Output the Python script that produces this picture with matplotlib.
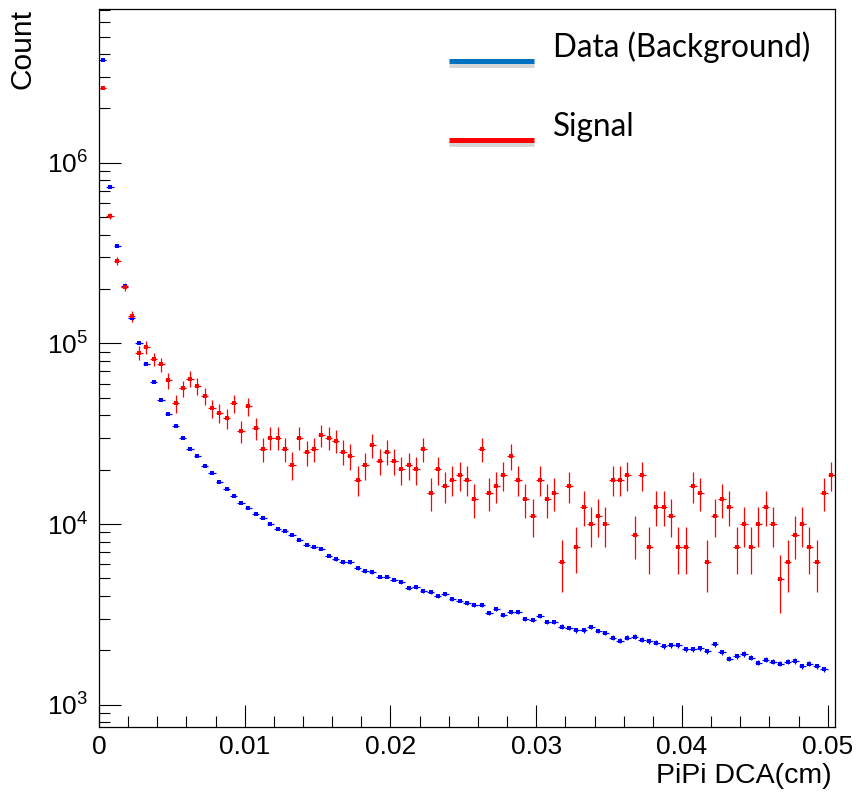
import numpy as np
import matplotlib
matplotlib.use("Agg")
import matplotlib.pyplot as plt
from matplotlib.lines import Line2D
from matplotlib.ticker import LogLocator, NullFormatter, MultipleLocator

# histogram: 101 bins of 0.0005 cm from 0 to 0.0505
bin_width = 0.0005
n_bins = 101

# Data (Background), counts per bin (last bin empty)
background = [
    3.73e6, 7.31e5, 3.46e5, 2.08e5, 1.39e5, 1.00e5, 7.66e4, 6.09e4, 4.88e4, 4.07e4,
    3.48e4, 3.01e4, 2.61e4, 2.38e4, 2.11e4, 1.91e4, 1.71e4, 1.57e4, 1.43e4, 1.31e4,
    1.22e4, 1.14e4, 1.08e4, 1.00e4, 9.40e3, 9.19e3, 8.67e3, 8.17e3, 7.66e3, 7.47e3,
    7.28e3, 6.69e3, 6.39e3, 6.15e3, 6.15e3, 5.71e3, 5.50e3, 5.43e3, 5.12e3, 5.12e3,
    4.92e3, 4.76e3, 4.41e3, 4.47e3, 4.26e3, 4.21e3, 4.00e3, 4.11e3, 3.85e3, 3.77e3,
    3.67e3, 3.58e3, 3.55e3, 3.22e3, 3.39e3, 3.14e3, 3.27e3, 3.27e3, 2.98e3, 2.95e3,
    3.10e3, 2.88e3, 2.86e3, 2.71e3, 2.65e3, 2.58e3, 2.58e3, 2.69e3, 2.56e3, 2.50e3,
    2.35e3, 2.26e3, 2.35e3, 2.38e3, 2.29e3, 2.24e3, 2.21e3, 2.11e3, 2.13e3, 2.13e3,
    2.03e3, 2.03e3, 2.06e3, 1.98e3, 2.16e3, 1.95e3, 1.80e3, 1.86e3, 1.91e3, 1.82e3,
    1.71e3, 1.78e3, 1.73e3, 1.69e3, 1.73e3, 1.75e3, 1.63e3, 1.69e3, 1.63e3, 1.57e3,
]

# Signal (scaled MC), counts per bin
signal = [
    2.59e6, 5.07e5, 2.86e5, 2.06e5, 1.41e5, 8.88e4, 9.55e4, 8.17e4, 7.66e4, 6.25e4,
    4.66e4, 5.64e4, 6.38e4, 5.81e4, 5.13e4, 4.37e4, 4.12e4, 3.87e4, 4.66e4, 3.27e4,
    4.49e4, 3.39e4, 2.61e4, 3.01e4, 3.01e4, 2.61e4, 2.13e4, 3.01e4, 2.50e4, 2.61e4,
    3.11e4, 3.01e4, 2.89e4, 2.51e4, 2.38e4, 1.76e4, 2.12e4, 2.74e4, 2.24e4, 2.51e4,
    2.24e4, 2.01e4, 2.12e4, 2.01e4, 2.61e4, 1.49e4, 2.01e4, 1.63e4, 1.76e4, 1.87e4,
    1.76e4, 1.38e4, 2.61e4, 1.49e4, 1.63e4, 1.87e4, 2.38e4, 1.76e4, 1.38e4, 1.11e4,
    1.76e4, 1.38e4, 1.49e4, 6.19e3, 1.63e4, 7.50e3, 1.25e4, 1.00e4, 1.11e4, 1.00e4,
    1.76e4, 1.76e4, 1.87e4, 8.74e3, 1.87e4, 7.47e3, 1.25e4, 1.25e4, 1.11e4, 7.47e3,
    7.47e3, 1.63e4, 1.49e4, 6.19e3, 1.11e4, 1.38e4, 1.25e4, 7.47e3, 1.00e4, 7.47e3,
    1.00e4, 1.25e4, 1.00e4, 4.99e3, 6.19e3, 8.74e3, 1.00e4, 7.47e3, 6.19e3, 1.49e4,
    1.87e4,
]

# weights (sumw2 errors of weighted histograms)
bkg_weight = 2.0
sig_weight = 625.0

legend_labels = ["Data (Background)", "Signal"]

plt.rcParams['font.family'] = ['Liberation Sans', 'DejaVu Sans']
plt.rcParams['mathtext.fontset'] = 'custom'
plt.rcParams['mathtext.rm'] = 'Liberation Sans'
plt.rcParams['mathtext.default'] = 'regular'

centers = (np.arange(n_bins) + 0.5) * bin_width
bkg = np.array(background)
sig = np.array(signal)

fig = plt.figure(figsize=(8.58, 7.93), dpi=100)
ax = fig.add_axes([99 / 858, 1 - 727 / 793, 736 / 858, 718 / 793])

ax.errorbar(centers[:len(bkg)], bkg, xerr=bin_width / 2, yerr=np.sqrt(bkg_weight * bkg),
            fmt='s', ms=3, color='blue', mew=0, elinewidth=0.9, capsize=0)
ax.errorbar(centers[:len(sig)], sig, xerr=bin_width / 2, yerr=np.sqrt(sig_weight * sig),
            fmt='s', ms=3, color='red', mew=0, elinewidth=0.9, capsize=0)

ax.set_yscale('log')
ax.set_xlim(0, n_bins * bin_width)
ax.set_ylim(753, 7.1e6)

ax.xaxis.set_major_locator(MultipleLocator(0.01))
ax.xaxis.set_minor_locator(MultipleLocator(0.002))
ax.xaxis.set_major_formatter(plt.FuncFormatter(lambda v, p: '0' if v == 0 else '%g' % v))
ax.yaxis.set_major_locator(LogLocator(base=10))
ax.yaxis.set_minor_locator(LogLocator(base=10, subs=np.arange(2, 10)))
ax.yaxis.set_minor_formatter(NullFormatter())

ax.tick_params(which='both', direction='in', top=False, right=False, width=0.8, labelsize=19)
ax.tick_params(which='major', length=16)
ax.tick_params(which='minor', length=8)
ax.tick_params(axis='x', pad=6)
ax.tick_params(axis='y', pad=8)
for s in ax.spines.values():
    s.set_linewidth(0.9)

fig.text(832 / 858, 1 - 783 / 793, 'PiPi DCA(cm)', fontsize=20.5, ha='right', va='baseline')
fig.text(9 / 858, 1 - 9 / 793, 'Count', fontsize=21.5, rotation=90, ha='left', va='top')

# legend pasted in the style of a slide: thick lines with a soft shadow
leg_colors = ['#0070C0', '#FF0000']
leg_y = [61, 140]
for lab, c, yy in zip(legend_labels, leg_colors, leg_y):
    yf = 1 - yy / 793
    fig.add_artist(Line2D([449 / 858, 534 / 858], [yf - 4 / 793] * 2, color='#888888',
                          lw=3.5, alpha=0.35, solid_capstyle='butt'))
    fig.add_artist(Line2D([449 / 858, 534 / 858], [yf] * 2, color=c, lw=3.6,
                          solid_capstyle='butt'))
    fig.text(553 / 858, 1 - (yy - 4) / 793, lab, fontsize=22.7, family='Lato',
             ha='left', va='baseline')

fig.savefig('out.png', dpi=100)
